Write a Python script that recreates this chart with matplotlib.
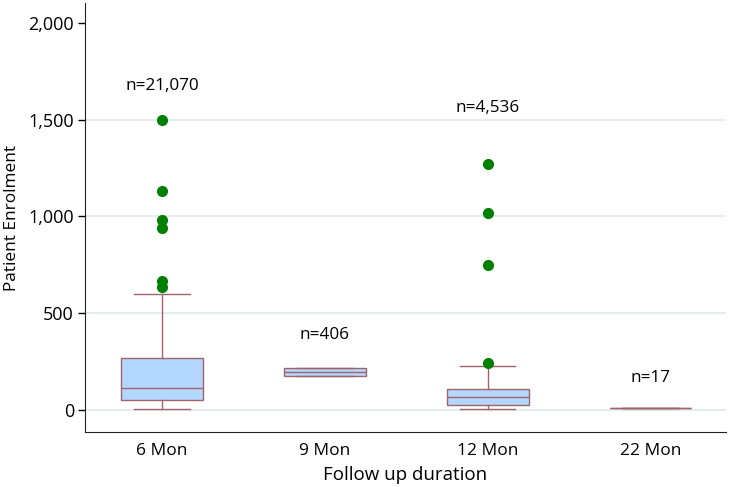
import matplotlib
matplotlib.use('Agg')
import matplotlib.pyplot as plt

plt.rcParams['font.family'] = ['Open Sans', 'DejaVu Sans']

# summary values
groups = ['6 Mon', '9 Mon', '12 Mon', '22 Mon']
medians = [114, 196, 67, 10]
q1s = [52, 176, 26, 10]
q3s = [269, 217, 108, 10]
whis_lo = [5, 176, 5, 10]
whis_hi = [600, 217, 227, 10]
outliers = [[1500, 1130, 980, 940, 665, 635], [], [1270, 1015, 750, 240], []]
n_labels = ['n=21,070', 'n=406', 'n=4,536', 'n=17']
n_label_y = [1675, 388, 1561, 165]

box_edge = '#a0636b'
box_face = '#b4d7ff'

stats = []
for i in range(len(groups)):
    stats.append({'med': medians[i], 'q1': q1s[i], 'q3': q3s[i],
                  'whislo': whis_lo[i], 'whishi': whis_hi[i],
                  'fliers': outliers[i], 'label': groups[i]})

fig = plt.figure(figsize=(7.33, 4.87), dpi=100)
ax = fig.add_axes([0.116, 0.113, 0.874, 0.881])

pos = list(range(1, len(groups) + 1))
ax.bxp(stats, positions=pos, widths=0.5, capwidths=0.34, patch_artist=True,
       boxprops=dict(facecolor=box_face, edgecolor=box_edge, linewidth=1),
       medianprops=dict(color=box_edge, linewidth=1),
       whiskerprops=dict(color=box_edge, linewidth=1),
       capprops=dict(color=box_edge, linewidth=1),
       flierprops=dict(marker='o', markerfacecolor='green', markeredgecolor='green',
                       markersize=7))

for p, lab, y in zip(pos, n_labels, n_label_y):
    ax.text(p, y, lab, ha='center', va='center', fontsize=12.3, color='black')

ax.set_xlim(0.528, 4.46)
ax.set_ylim(-114, 2103)
yt = [0, 500, 1000, 1500, 2000]
ax.set_yticks(yt)
ax.set_yticklabels(['{:,}'.format(v) for v in yt], fontsize=13)
for v in yt[:-1]:
    ax.axhline(v, color='#e0ecec', linewidth=1.3, zorder=0)

ax.set_xticks(pos)
ax.set_xticklabels(groups, fontsize=12.5)
ax.tick_params(axis='x', length=0, pad=8)
ax.tick_params(axis='y', length=5, width=1, direction='out', pad=3)

ax.set_xlabel('Follow up duration', fontsize=13.5, labelpad=5)
ax.set_ylabel('Patient Enrolment', fontsize=12.4, labelpad=6)

ax.spines['top'].set_visible(False)
ax.spines['right'].set_visible(False)
ax.spines['left'].set_color('#222222')
ax.spines['bottom'].set_color('#222222')

fig.savefig('out.png', dpi=100)
